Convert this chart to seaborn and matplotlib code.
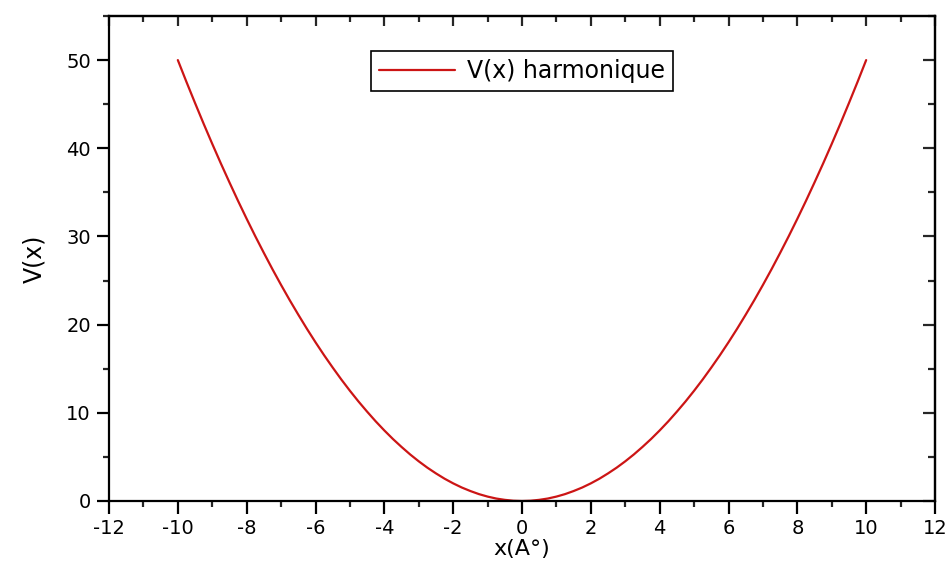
import matplotlib
matplotlib.use("Agg")
import matplotlib.pyplot as plt
import seaborn as sns
import pandas as pd
from matplotlib.ticker import MultipleLocator

# Harmonic potential sampled along x (Angstrom)
x_vals = [-10.0, -9.75, -9.5, -9.25, -9.0, -8.75, -8.5, -8.25, -8.0, -7.75,
          -7.5, -7.25, -7.0, -6.75, -6.5, -6.25, -6.0, -5.75, -5.5, -5.25,
          -5.0, -4.75, -4.5, -4.25, -4.0, -3.75, -3.5, -3.25, -3.0, -2.75,
          -2.5, -2.25, -2.0, -1.75, -1.5, -1.25, -1.0, -0.75, -0.5, -0.25,
          0.0,
          0.25, 0.5, 0.75, 1.0, 1.25, 1.5, 1.75, 2.0, 2.25, 2.5,
          2.75, 3.0, 3.25, 3.5, 3.75, 4.0, 4.25, 4.5, 4.75, 5.0,
          5.25, 5.5, 5.75, 6.0, 6.25, 6.5, 6.75, 7.0, 7.25, 7.5,
          7.75, 8.0, 8.25, 8.5, 8.75, 9.0, 9.25, 9.5, 9.75, 10.0]
v_vals = [50.0, 47.53, 45.13, 42.78, 40.5, 38.28, 36.13, 34.03, 32.0, 30.03,
          28.13, 26.28, 24.5, 22.78, 21.13, 19.53, 18.0, 16.53, 15.13, 13.78,
          12.5, 11.28, 10.13, 9.03, 8.0, 7.03, 6.13, 5.28, 4.5, 3.78,
          3.13, 2.53, 2.0, 1.53, 1.13, 0.78, 0.5, 0.28, 0.13, 0.03,
          0.0,
          0.03, 0.13, 0.28, 0.5, 0.78, 1.13, 1.53, 2.0, 2.53, 3.13,
          3.78, 4.5, 5.28, 6.13, 7.03, 8.0, 9.03, 10.13, 11.28, 12.5,
          13.78, 15.13, 16.53, 18.0, 19.53, 21.13, 22.78, 24.5, 26.28, 28.13,
          30.03, 32.0, 34.03, 36.13, 38.28, 40.5, 42.78, 45.13, 47.53, 50.0]
series_label = "V(x) harmonique"
x_ticks = [-12, -10, -8, -6, -4, -2, 0, 2, 4, 6, 8, 10, 12]
y_ticks = [0, 10, 20, 30, 40, 50]

sns.set_style("ticks")
plt.rcParams["font.family"] = ["DejaVu Sans"]
plt.rcParams["text.color"] = "black"
plt.rcParams["axes.labelcolor"] = "black"

df = pd.DataFrame({"x": x_vals, "V": v_vals})

fig = plt.figure(figsize=(9.5, 5.61), dpi=100)
ax = fig.add_axes([109 / 950, 60 / 561, (935 - 109) / 950, (501 - 16) / 561])

sns.lineplot(data=df, x="x", y="V", ax=ax, color="#CC1515", linewidth=1.6,
             label=series_label, sort=False)

ax.set_xlim(-12, 12)
ax.set_ylim(0, 55)
ax.set_xticks(x_ticks)
ax.set_yticks(y_ticks)
ax.xaxis.set_minor_locator(MultipleLocator(1))
ax.yaxis.set_minor_locator(MultipleLocator(5))
ax.set_xticklabels([str(t) for t in x_ticks])
ax.set_yticklabels([str(t) for t in y_ticks])

for side in ["left", "bottom", "top", "right"]:
    ax.spines[side].set_visible(True)
    ax.spines[side].set_linewidth(1.6)
    ax.spines[side].set_color("black")

# Bottom/left ticks point outward
ax.tick_params(axis="both", which="major", direction="out", length=9, width=1.6,
               labelsize=14, colors="black", top=False, right=False)
ax.tick_params(axis="x", which="major", pad=4)
ax.tick_params(axis="y", which="major", pad=4)
ax.tick_params(axis="both", which="minor", direction="out", length=4.5, width=1.6,
               top=False, right=False)

# Top/right ticks point inward, no labels
top = ax.secondary_xaxis("top")
top.set_xticks(x_ticks)
top.xaxis.set_minor_locator(MultipleLocator(1))
top.tick_params(which="major", direction="in", length=7, width=1.6, labeltop=False)
top.tick_params(which="minor", direction="in", length=4.5, width=1.6)
top.spines["top"].set_linewidth(1.6)

right = ax.secondary_yaxis("right")
right.set_yticks(y_ticks)
right.yaxis.set_minor_locator(MultipleLocator(5))
right.tick_params(which="major", direction="in", length=9, width=1.6, labelright=False)
right.tick_params(which="minor", direction="in", length=5, width=1.6)
right.spines["right"].set_linewidth(1.6)

ax.set_xlabel("x(A°)", fontsize=16, labelpad=1)
ax.set_ylabel("V(x)", fontsize=17, labelpad=14)

leg = ax.legend(loc="upper center", bbox_to_anchor=(0.5, 0.928), fontsize=17,
                frameon=True, fancybox=False, shadow=False, handlelength=3.2,
                borderpad=0.35, handletextpad=0.5, borderaxespad=0)
leg.get_frame().set_edgecolor("black")
leg.get_frame().set_linewidth(1.2)
leg.get_frame().set_alpha(1)

fig.savefig("out.png", dpi=100, facecolor="white")
